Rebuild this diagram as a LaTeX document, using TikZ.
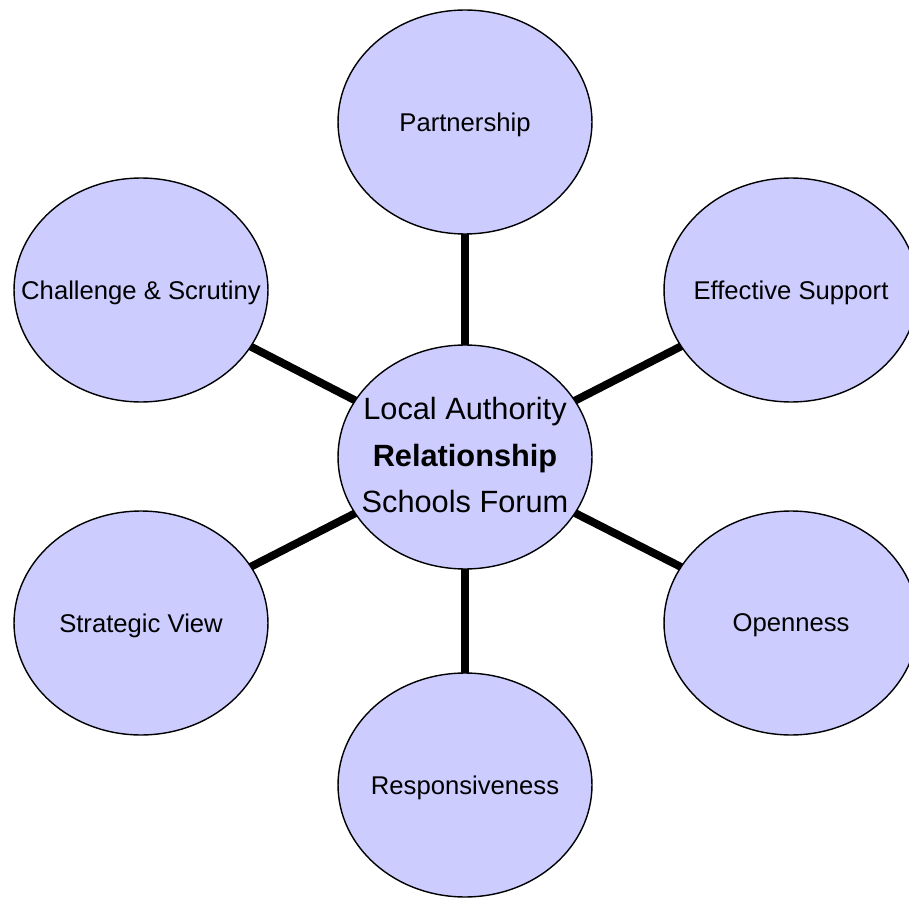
\documentclass[tikz,border=0pt]{standalone}
\usepackage{fontspec}
\setmainfont{Liberation Sans}
\usetikzlibrary{shapes.geometric,backgrounds}
\definecolor{bubblefill}{HTML}{CCCCFF}
\newcommand{\slim}[1]{\makebox[0pt]{#1}}

\begin{document}
\begin{tikzpicture}[x = 0.02cm, y = -0.02cm,
	bubble/.style = {ellipse, draw, line width = 0.8pt, fill = bubblefill, minimum width = 5.08cm, minimum height = 4.48cm, inner sep = 0pt},
	sat/.style = {bubble, text depth = 0pt, font = \fontsize{14.6}{17}\selectfont},
	hub/.style = {bubble, font = \fontsize{17.5}{26.5}\selectfont},
	spoke/.style = {line width = 4.5pt}]
	\useasboundingbox (0,0) rectangle (909,898);
	\clip (0,0) rectangle (909,898);

	\node[hub] (hub) at (465,457) {\slim{\begin{tabular}{@{}c@{}}Local Authority\\ \textbf{Relationship}\\ Schools Forum\end{tabular}}};

	\node[sat] (part) at (465,122) {\slim{Partnership}};
	\node[sat] (effect) at (791,290) {\slim{Effective Support}};
	\node[sat] (open) at (791,623) {\slim{Openness}};
	\node[sat] (resp) at (465,785) {\slim{Responsiveness}};
	\node[sat] (strat) at (141,623) {\slim{Strategic View}};
	\node[sat] (chall) at (141,290) {\slim{Challenge \& Scrutiny}};

	\begin{scope}[on background layer]
		\foreach \n in {part, effect, open, resp, strat, chall}
			\draw[spoke] (hub.center) -- (\n.center);
	\end{scope}
\end{tikzpicture}
\end{document}
